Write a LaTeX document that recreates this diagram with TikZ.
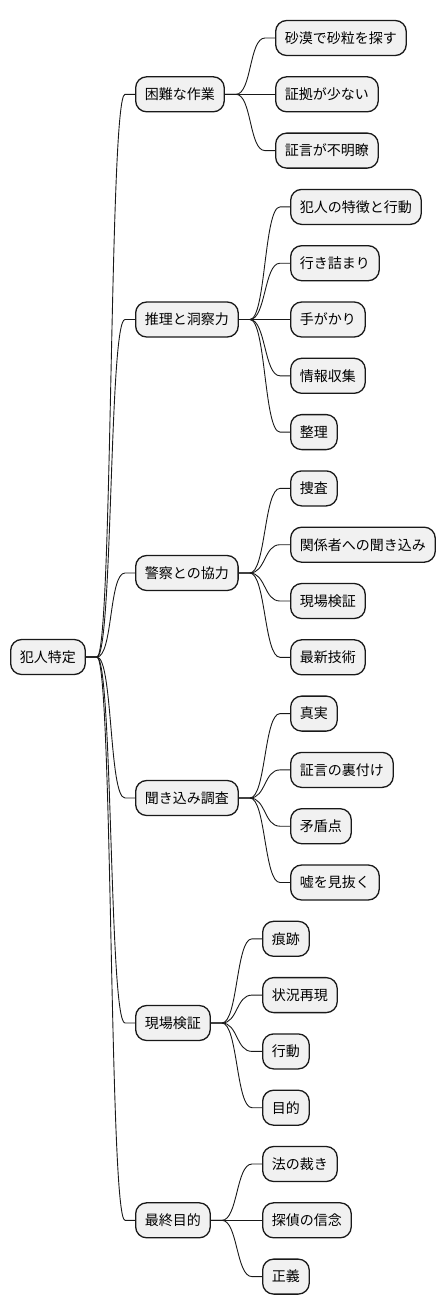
\documentclass[tikz,border=0pt]{standalone}
\usepackage{fontspec}
\setmainfont{Noto Sans CJK JP}
\usetikzlibrary{calc}
\tikzset{
  mm/.style={draw=black!90, line width=1.3pt, fill=black!5.5, rounded corners=11pt,
    minimum height=35pt, inner xsep=9.3pt, inner ysep=0pt, anchor=west,
    font=\fontsize{14pt}{16pt}\selectfont},
  edge/.style={draw=black!90, line width=0.9pt}
}
\newcommand\mmedge[2]{\draw[edge] (#1.east) -- ($(#1.east)+(11pt,0)$) .. controls ($(#1.east)+(27pt,0)$) and ($(#2.west)+(-26pt,0)$) .. ($(#2.west)+(-10pt,0)$) -- (#2.west);}
\begin{document}
\begin{tikzpicture}[x=1pt,y=-1pt]
\useasboundingbox (0,0) rectangle (446,1315);
\def\ly#1{\fpeval{38+56.3*#1}}
\node[mm] (r) at (10,657) {犯人特定};
\node[mm] (a) at (135,94.3) {困難な作業};
\node[mm] (b) at (135,319.5) {推理と洞察力};
\node[mm] (c) at (135,573) {警察との協力};
\node[mm] (d) at (135,798) {聞き込み調査};
\node[mm] (e) at (135,1023) {現場検証};
\node[mm] (f) at (135,1220.3) {最終目的};
% group a
\node[mm] (a1) at (275,\ly{0}) {砂漠で砂粒を探す};
\node[mm] (a2) at (275,\ly{1}) {証拠が少ない};
\node[mm] (a3) at (275,\ly{2}) {証言が不明瞭};
% group b
\node[mm] (b1) at (290,\ly{3}) {犯人の特徴と行動};
\node[mm] (b2) at (290,\ly{4}) {行き詰まり};
\node[mm] (b3) at (290,\ly{5}) {手がかり};
\node[mm] (b4) at (290,\ly{6}) {情報収集};
\node[mm] (b5) at (290,\ly{7}) {整理};
% group c
\node[mm] (c1) at (290,\ly{8}) {捜査};
\node[mm] (c2) at (290,\ly{9}) {関係者への聞き込み};
\node[mm] (c3) at (290,\ly{10}) {現場検証};
\node[mm] (c4) at (290,\ly{11}) {最新技術};
% group d
\node[mm] (d1) at (290,\ly{12}) {真実};
\node[mm] (d2) at (290,\ly{13}) {証言の裏付け};
\node[mm] (d3) at (290,\ly{14}) {矛盾点};
\node[mm] (d4) at (290,\ly{15}) {嘘を見抜く};
% group e
\node[mm] (e1) at (262,\ly{16}) {痕跡};
\node[mm] (e2) at (262,\ly{17}) {状況再現};
\node[mm] (e3) at (262,\ly{18}) {行動};
\node[mm] (e4) at (262,\ly{19}) {目的};
% group f
\node[mm] (f1) at (262,\ly{20}) {法の裁き};
\node[mm] (f2) at (262,\ly{21}) {探偵の信念};
\node[mm] (f3) at (262,\ly{22}) {正義};
\foreach \c in {a,b,c,d,e,f} {\mmedge{r}{\c}}
\foreach \c in {a1,a2,a3} {\mmedge{a}{\c}}
\foreach \c in {b1,b2,b3,b4,b5} {\mmedge{b}{\c}}
\foreach \c in {c1,c2,c3,c4} {\mmedge{c}{\c}}
\foreach \c in {d1,d2,d3,d4} {\mmedge{d}{\c}}
\foreach \c in {e1,e2,e3,e4} {\mmedge{e}{\c}}
\foreach \c in {f1,f2,f3} {\mmedge{f}{\c}}
\end{tikzpicture}
\end{document}
